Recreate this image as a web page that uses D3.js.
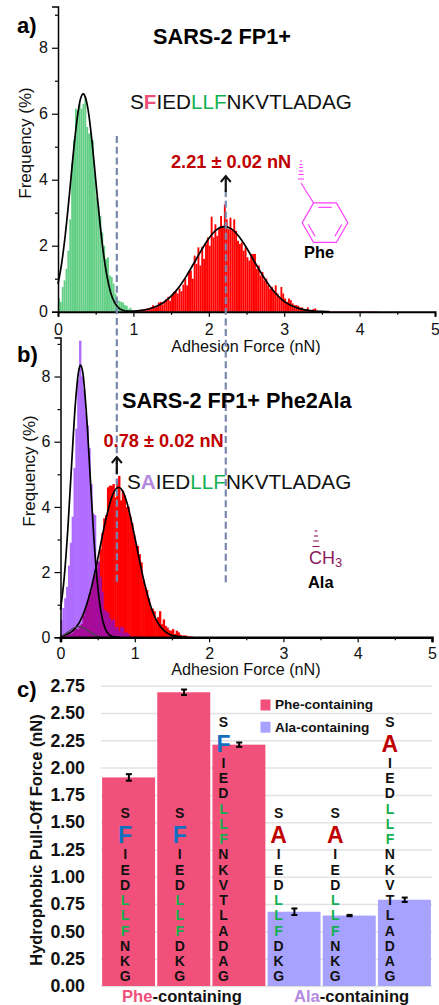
<!DOCTYPE html>
<html>
<head>
<meta charset="utf-8">
<script src="https://cdnjs.cloudflare.com/ajax/libs/d3/7.8.5/d3.min.js"></script>
<style>
  body { margin: 0; background: #fff; }
  text { font-family: "Liberation Sans", Arial, sans-serif; }
</style>
</head>
<body>
<div id="chart"></div>
<script>
// histogram bin width is the same in both panels (nN)
const binWidth = 0.025;

// panel a histograms, first bin starts at given force
const aGreenStart = 0;
const aGreen = [.42,.3,.75,.95,1.3,1.85,2.8,4.5,5.2,6.15,6.1,6.3,6.15,6.3,6.5,5.6,5.4,5.45,5.2,4.2,3.5,3.2,2.9,2.4,2.0,1.6,1.65,1.1,1.05,.85,.55,.35,.33,.3,.28,.2,.18,.08,.12,.05,.03];
const aRedStart = 1.0;
const aRed = [.01,.02,.02,.04,.05,.07,.08,.1,.09,.14,.2,.12,.17,.28,.3,.22,.32,.38,.45,.33,.48,.6,.62,.55,.7,.62,.82,1.0,.8,1.22,1.25,1.0,1.7,1.45,1.95,1.4,1.97,1.6,2.05,2.25,2.0,2.88,2.25,2.65,2.3,2.55,2.9,2.6,3.25,2.8,2.5,2.85,2.5,2.8,2.45,2.15,2.05,2.1,1.85,1.95,1.65,1.55,1.75,1.75,1.75,1.3,1.4,1.1,1.2,.95,1.0,.8,.7,.75,.6,.8,.55,.45,.75,.55,.4,.3,.4,.35,.25,.2,.2,.18,.13,.13,.05,.06,.13,.03,.04,.08,.1,.03,.02,.01,.01,.01,.01,.01,.01,.01,.01,.01,.01,.01,.01,.01,.01,.01,.01,.01,.01,.01,.01,.01,.01,.01,.01,.01,.01,.01,.01,.01,.01,.01];

// panel b histograms
const bPurple = [.53,.9,1.2,1.55,2.2,2.9,3.7,5.2,6.4,7.9,9.1,8.0,7.6,6.9,6.5,5.8,4.7,3.8,3.75,2.3,2.35,1.85,1.4,.85,.8,.75,.6,.5,.55,.3,.32,.2,.32,.3,.12,.15,.1,.03,.02,.02,.02,.01];
const bRed = [0,.02,.03,.05,.08,.1,.13,.2,.25,.25,.35,.4,.65,.85,1.05,1.3,1.4,1.7,1.9,2.1,2.3,2.7,3.2,3.65,3.75,4.6,4.65,4.65,4.7,4.3,4.75,4.95,4.2,4.5,4.35,4.0,4.0,3.7,3.5,3.15,2.85,2.8,2.55,2.3,1.75,1.55,1.45,1.2,.9,.88,.8,.55,.62,.8,.4,.55,.35,.3,.22,.2,.25,.1,.2,.15,.08,.05,.06,.05,.03,.03,.02,.01];

// fitted curves
const aFit1X = [0,.05,.1,.15,.2,.25,.3,.335,.35,.4,.45,.5,.55,.6,.65,.7,.75,.8,.85,.9,1.0];
const aFit1Y = [.84,1.49,2.4,3.52,4.73,5.78,6.46,6.6,6.57,6.11,5.18,4.0,2.83,1.82,1.07,.57,.28,.125,.05,.02,0];
const aFit2X = [.9,1,1.1,1.2,1.3,1.4,1.5,1.6,1.7,1.8,1.9,2,2.1,2.2,2.3,2.4,2.5,2.6,2.7,2.8,2.9,3,3.1,3.2,3.3,3.4,3.5,3.6];
const aFit2Y = [.008,.018,.04,.082,.157,.28,.47,.73,1.07,1.46,1.86,2.22,2.48,2.58,2.51,2.28,1.94,1.54,1.15,.8,.52,.31,.18,.094,.047,.02,.01,0];
const bFit1X = [0,.05,.1,.15,.2,.25,.27,.3,.35,.4,.45,.5,.55,.6,.65,.7,.8];
const bFit1Y = [.85,1.83,3.37,5.32,7.16,8.24,8.35,8.12,6.83,4.92,3.02,1.59,.71,.275,.09,.025,0];
const bFit2X = [0,.1,.2,.3,.4,.5,.6,.7,.78,.85,.9,1,1.1,1.2,1.3,1.4,1.5,1.6,1.7];
const bFit2Y = [.03,.098,.28,.67,1.38,2.39,3.51,4.36,4.6,4.42,4.08,3.07,1.96,1.06,.48,.19,.06,.02,0];
const bFit3X = [0,.05,.1,.15,.2,.25,.3,.35,.4,.45,.5,.55,.6];
const bFit3Y = [.03,.08,.16,.25,.31,.33,.3,.24,.16,.09,.04,.01,0];

// panel c
const pullValues = [1.91,2.69,2.21,0.68,0.645,0.79];
const pullErrors = [0.03,0.025,0.02,0.03,0.006,0.02];
const pullGroups = ["Phe","Phe","Phe","Ala","Ala","Ala"];
const pullSeqs = ["SFIEDLLFNKG","SFIEDLLFDKG","SFIEDLLFNKVTLADAG","SAIEDLLFDKG","SAIEDLLFNKG","SAIEDLLFNKVTLADAG"];
const pullTicks = [0,.25,.5,.75,1,1.25,1.5,1.75,2,2.25,2.5,2.75];
const xTicks = [0,1,2,3,4,5];
const xMinor = [.5,1.5,2.5,3.5,4.5];
const yTicks = [0,2,4,6,8];
const yMinor = [1,3,5,7,9];
const dashForces = [0.78,2.225];

const pink = "#f0507a", lilac = "#a8a2ff", green = "#12b050", darkRed = "#c00000";

const svg = d3.select("#chart").append("svg")
  .attr("width", 439).attr("height", 1005)
  .style("display", "block");

function label(x, y, str, size, weight, color, anchor) {
  return svg.append("text").attr("x", x).attr("y", y)
    .attr("font-size", size).attr("font-weight", weight || "normal")
    .attr("fill", color || "#111").attr("text-anchor", anchor || "start")
    .text(str);
}

// extra widens the bar past its bin, in b the bars have to close up
function drawBars(data, start, x, y, color, extra) {
  const w = (x(binWidth) - x(0)) + extra;
  svg.append("g").selectAll("rect").data(data).enter().append("rect")
    .attr("x", (d, i) => x(start + i * binWidth))
    .attr("y", d => y(d))
    .attr("width", w)
    .attr("height", d => y(0) - y(d))
    .attr("fill", color);
}

function drawFit(xs, ys, x, y, color, width) {
  const line = d3.line().x(d => x(d[0])).y(d => y(d[1])).curve(d3.curveMonotoneX);
  svg.append("path").attr("d", line(xs.map((v, i) => [v, ys[i]])))
    .attr("fill", "none").attr("stroke", color).attr("stroke-width", width);
}

function drawAxes(x, y, bottomWidth, fontSize, padX) {
  const h = y.range()[0], l = x.range()[0];
  const gx = svg.append("g").attr("transform", "translate(0," + h + ")")
    .call(d3.axisBottom(x).tickValues(xTicks).tickFormat(d3.format("d")).tickSize(5).tickPadding(padX));
  svg.append("g").attr("transform", "translate(0," + h + ")")
    .call(d3.axisBottom(x).tickValues(xMinor).tickFormat("").tickSize(3))
    .select(".domain").remove();
  gx.select(".domain").attr("stroke-width", bottomWidth);
  const gy = svg.append("g").attr("transform", "translate(" + l + ",0)")
    .call(d3.axisLeft(y).tickValues(yTicks).tickSize(6).tickPadding(4));
  svg.append("g").attr("transform", "translate(" + l + ",0)")
    .call(d3.axisLeft(y).tickValues(yMinor).tickFormat("").tickSize(3))
    .select(".domain").remove();
  gy.select(".domain").attr("stroke-width", 1.5);
  svg.selectAll(".tick line").attr("stroke-width", 1.2);
  gx.selectAll("text").attr("font-size", fontSize).attr("fill", "#111").attr("font-family", "Liberation Sans");
  gy.selectAll("text").attr("font-size", fontSize).attr("fill", "#111").attr("font-family", "Liberation Sans");
}

// ---- panel a
const xA = d3.scaleLinear().domain([0, 5]).range([58, 435]);
const yA = d3.scaleLinear().domain([0, 9.25]).range([311.7, 6.5]);
drawBars(aGreen, aGreenStart, xA, yA, "#62cf84", 0);
drawBars(aRed, aRedStart, xA, yA, "#ff0000", 0);
drawFit(aFit1X, aFit1Y, xA, yA, "#000", 1.7);
drawFit(aFit2X, aFit2Y, xA, yA, "#000", 1.7);
drawAxes(xA, yA, 2, 16, 7);

// ---- panel b
const xB = d3.scaleLinear().domain([0, 5]).range([60.5, 432]);
const yB = d3.scaleLinear().domain([0, 9.2]).range([637.3, 337.4]);
drawBars(bPurple, 0, xB, yB, "#b06cff", 0.5);
drawBars(bRed, 0, xB, yB, "#ff0000", 0.5);
drawBars(bPurple.map((d, i) => Math.min(d, bRed[i])), 0, xB, yB, "#a60c9c", 0.5);
drawFit(bFit1X, bFit1Y, xB, yB, "#000", 1.7);
drawFit(bFit2X, bFit2Y, xB, yB, "#000", 1.7);
drawFit(bFit3X, bFit3Y, xB, yB, "#444", 1.2);
drawAxes(xB, yB, 2.6, 16, 5);

// axis titles for a and b
label(0, 0, "Frequency (%)", 17).attr("text-anchor", "middle").attr("transform", "translate(31,143) rotate(-90)");
label(0, 0, "Frequency (%)", 17).attr("text-anchor", "middle").attr("transform", "translate(35,471) rotate(-90)");
label(246, 352, "Adhesion Force (nN)", 16.2, "normal", "#111", "middle");
label(246, 674.5, "Adhesion Force (nN)", 16.2, "normal", "#111", "middle");

// dashed guide lines running through both panels
svg.selectAll(".guide").data(dashForces).enter().append("line")
  .attr("class", "guide")
  .attr("x1", d => xA(d)).attr("x2", d => xA(d))
  .attr("y1", (d, i) => i ? 190 : 136).attr("y2", 583)
  .attr("stroke", "#7888ad").attr("stroke-width", 2.2).attr("stroke-dasharray", "7,3.7");

// arrows
function arrow(x, y1, y2) {
  svg.append("line").attr("x1", x).attr("x2", x).attr("y1", y1).attr("y2", y2)
    .attr("stroke", "#111").attr("stroke-width", 2.2);
  svg.append("path").attr("d", "M" + (x - 5) + "," + (y2 + 6) + "L" + x + "," + y2 + "L" + (x + 5) + "," + (y2 + 6))
    .attr("fill", "none").attr("stroke", "#111").attr("stroke-width", 2);
}
arrow(xA(dashForces[1]), 192, 176);
arrow(xA(dashForces[0]), 474, 457);

// panel letters and titles
label(17, 33, "a)", 22, "bold", "#000");
label(17, 362, "b)", 22, "bold", "#000");
label(17, 697, "c)", 22, "bold", "#000");
label(153, 44, "SARS-2 FP1+", 21.7, "bold", "#000");
label(122, 408, "SARS-2 FP1+ Phe2Ala", 21.7, "bold", "#000");
label(171, 168, "2.21 ± 0.02 nN", 18.2, "bold", darkRed);
label(103.5, 447, "0.78 ± 0.02 nN", 18.2, "bold", darkRed);

function seqText(x, y, second, secondColor) {
  const t = svg.append("text").attr("x", x).attr("y", y).attr("font-size", 20.7).attr("fill", "#111");
  t.append("tspan").text("S");
  t.append("tspan").text(second).attr("font-weight", "bold").attr("fill", secondColor);
  t.append("tspan").text("IED");
  t.append("tspan").text("LLF").attr("fill", green);
  t.append("tspan").text("NKVTLADAG");
}
seqText(130, 108.5, "F", pink);
seqText(127, 489, "A", "#b48ae0");

// Phe side chain
const ringColor = "#ff3cff";
const ringCx = 325, ringCy = 222.7, ringR = 22.8;
const ringPts = d3.range(6).map(i => {
  const a = i * Math.PI / 3;
  return [ringCx + ringR * Math.cos(a), ringCy + ringR * Math.sin(a)];
});
svg.append("path").attr("d", d3.line()(ringPts) + "Z").attr("fill", "none").attr("stroke", ringColor).attr("stroke-width", 1.2);
[[0, 1], [2, 3], [4, 5]].forEach(p => {
  const a = ringPts[p[0]], b = ringPts[p[1]], k = 0.78;
  const ax = ringCx + (a[0] - ringCx) * k, ay = ringCy + (a[1] - ringCy) * k;
  const bx = ringCx + (b[0] - ringCx) * k, by = ringCy + (b[1] - ringCy) * k;
  svg.append("line").attr("x1", ax + (bx - ax) * .12).attr("y1", ay + (by - ay) * .12)
    .attr("x2", bx - (bx - ax) * .12).attr("y2", by - (by - ay) * .12)
    .attr("stroke", ringColor).attr("stroke-width", 1.2);
});
svg.append("line").attr("x1", ringPts[4][0]).attr("y1", ringPts[4][1]).attr("x2", 301).attr("y2", 183)
  .attr("stroke", ringColor).attr("stroke-width", 1.2);
[179, 174.5, 171, 167.5, 164.5, 161].forEach((yy, i) => {
  svg.append("line").attr("x1", 301 - (3 - i * .4)).attr("x2", 301 + (3 - i * .4)).attr("y1", yy).attr("y2", yy)
    .attr("stroke", ringColor).attr("stroke-width", 1.1);
});
label(304, 258, "Phe", 16.4, "bold", "#000");

// Ala side chain
const alaColor = "#8b1a5c";
[546.5, 541, 536, 531].forEach((yy, i) => {
  svg.append("line").attr("x1", 316 - (3.5 - i * .7)).attr("x2", 316 + (3.5 - i * .7)).attr("y1", yy).attr("y2", yy)
    .attr("stroke", alaColor).attr("stroke-width", 1.1);
});
const ch3 = svg.append("text").attr("x", 309).attr("y", 564).attr("font-size", 18).attr("fill", alaColor);
ch3.append("tspan").text("CH");
ch3.append("tspan").text("3").attr("font-size", 13).attr("dy", 3);
label(308, 588, "Ala", 16.4, "bold", "#000");

// ---- panel c
const xC = d3.scaleBand().domain(d3.range(6)).range([101, 432]).paddingInner(0.04).paddingOuter(0.02);
const yC = d3.scaleLinear().domain([0, 2.75]).range([986, 685.7]);

svg.append("g").attr("transform", "translate(101,0)")
  .call(d3.axisLeft(yC).tickValues(pullTicks).tickFormat(d3.format(".2f")).tickSize(-331).tickPadding(16))
  .call(g => g.select(".domain").remove())
  .call(g => g.selectAll("line").attr("stroke", "#e2e2e2").attr("stroke-width", 1.5))
  .call(g => g.selectAll("text").attr("font-size", 17.8).attr("font-weight", "bold").attr("fill", "#111").attr("font-family", "Liberation Sans"));

svg.append("g").selectAll("rect").data(pullValues).enter().append("rect")
  .attr("x", (d, i) => xC(i))
  .attr("y", d => yC(d))
  .attr("width", xC.bandwidth())
  .attr("height", d => yC(0) - yC(d))
  .attr("fill", (d, i) => pullGroups[i] == "Phe" ? pink : lilac);

// error bars
pullValues.forEach((v, i) => {
  const cx = xC(i) + xC.bandwidth() / 2 + 0.3;
  const hi = yC(v + pullErrors[i]), lo = yC(v - pullErrors[i]);
  const e = svg.append("g").attr("stroke", "#000").attr("stroke-width", 2);
  e.append("line").attr("x1", cx).attr("x2", cx).attr("y1", hi).attr("y2", lo);
  e.append("line").attr("x1", cx - 3).attr("x2", cx + 3).attr("y1", hi).attr("y2", hi);
  e.append("line").attr("x1", cx - 3).attr("x2", cx + 3).attr("y1", lo).attr("y2", lo);
});

// peptide letters stacked in each column, bottom up
const seqOffsets = [-3.5, -4, -15.5, -15.5, -14, -14.5];
const stepY = 15.25, lastBase = 981.3;
pullSeqs.forEach((seq, c) => {
  const cx = xC(c) + xC.bandwidth() / 2 + seqOffsets[c];
  seq.split("").forEach((ch, i) => {
    const n = seq.length - 1 - i;
    var yy = lastBase - n * stepY, size = 14, color = "#111";
    if (i == 1) {
      yy = lastBase - (n - 1) * stepY - 16;
      size = 23;
      color = ch == "F" ? "#1270c0" : darkRed;
    }
    if (i == 0) {
      yy = lastBase - (seq.length - 3) * stepY - 41;
    }
    if (i >= 5 && i <= 7) color = green;
    label(cx, yy, ch, size, "bold", color, "middle");
  });
});

// y title + group labels
label(0, 0, "Hydrophobic Pull-Off Force (nN)", 16.4, "bold", "#111", "middle")
  .attr("transform", "translate(42,840) rotate(-90)");
const g1 = svg.append("text").attr("x", 122).attr("y", 1001.5).attr("font-size", 16.6).attr("font-weight", "bold").attr("fill", "#111");
g1.append("tspan").text("Phe").attr("fill", pink);
g1.append("tspan").text("-containing");
const g2 = svg.append("text").attr("x", 294).attr("y", 1001.5).attr("font-size", 16.6).attr("font-weight", "bold").attr("fill", "#111");
g2.append("tspan").text("Ala").attr("fill", "#b48ae0");
g2.append("tspan").text("-containing");

// legend
[["Phe-containing", pink, 699.5], ["Ala-containing", lilac, 721.7]].forEach(r => {
  svg.append("rect").attr("x", 260.5).attr("y", r[2]).attr("width", 10).attr("height", 11).attr("fill", r[1]);
  label(275, r[2] + 9.8, r[0], 13.6, "bold", "#111");
});
</script>
</body>
</html>
